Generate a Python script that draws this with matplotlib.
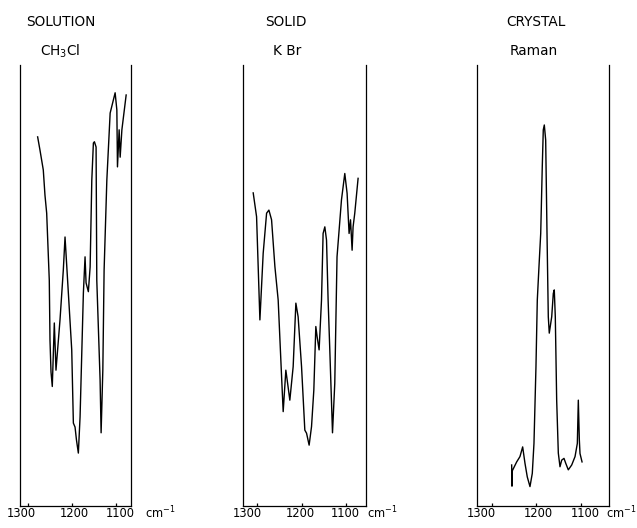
import matplotlib
matplotlib.use("Agg")
import matplotlib.pyplot as plt
import matplotlib.transforms as mtransforms

# ---------------- data ----------------
# Panel 1: SOLUTION, CH3Cl (IR)
sol_wn = [1278, 1272.7, 1265.2, 1261.4, 1257.5, 1253.4, 1251.6, 1250, 1247.7, 1244.8,
          1240.2, 1236.4, 1227.3, 1219.8,
          1215.9, 1200.7, 1197, 1193.2, 1190, 1185.7, 1181.8, 1174.3, 1170.5, 1168.2,
          1163, 1159, 1155.2, 1151.6, 1149.3, 1145.5, 1143.9, 1136.4, 1134.1, 1130.2,
          1127.3, 1121.1, 1113.6, 1102.3, 1098.4, 1097, 1093.2, 1090.9, 1087, 1077.3]
sol_val = [83.7, 80.7, 76.2, 70.5, 66.4, 55.8, 51.2, 37.6, 30.4, 27.1,
           41.5, 30.8, 42.2, 53.5,
           61.0, 35.4, 18.8, 17.9, 15.0, 12.0, 20.2, 48.3, 56.5, 50.6,
           48.6, 54.2, 73.9, 82.3, 82.6, 81.4, 51.2, 28.6, 16.6, 30.8,
           53.5, 73.9, 89.1, 93.7, 89.8, 76.9, 85.3, 79.1, 85.3, 93.2]

# Panel 2: SOLID, KBr (IR)
kbr_wn = [1309, 1301.4, 1293.9, 1286.5, 1278.8, 1273.6, 1267.6, 1260.1, 1252.7, 1245,
          1241.4, 1235.4, 1231.5, 1226.4, 1218.9, 1212.8, 1207.7, 1200, 1192.6, 1188.7,
          1182.9, 1177.5, 1172.3, 1167.8, 1164.9, 1160.4, 1155, 1151.4, 1147.5, 1143.7,
          1140.1, 1136.3, 1130.2, 1125.1, 1120, 1110, 1102.5, 1097.3, 1092.8, 1089.6,
          1086, 1083.8, 1080, 1072.5]
kbr_val = [71.0, 65.6, 42.2, 57.3, 66.4, 67.1, 64.9, 54.3, 46.7, 29.3,
           21.4, 30.8, 27.9, 24.0, 31.6, 46.0, 42.9, 31.6, 17.2, 16.5,
           13.8, 18.0, 26.3, 40.7, 38.4, 35.4, 46.7, 61.8, 63.3, 60.3,
           46.7, 35.4, 16.6, 27.8, 56.5, 69.4, 75.4, 70.9, 61.8, 64.9,
           58.0, 63.3, 66.4, 74.3]

# Panel 3: CRYSTAL, Raman
ram_wn = [1255.5, 1254.8, 1254.0, 1244.2, 1236.8, 1230.7, 1225.5, 1220.3, 1214.2, 1209,
          1205.2, 1200.7, 1197.7, 1193.9, 1190, 1186.5, 1184.2, 1181.9, 1178.8, 1175.8,
          1172.9, 1170.7, 1165.2, 1161.6, 1159.4, 1157.1, 1154, 1150.3, 1146.5, 1142.7,
          1137.5, 1133.6, 1127.8, 1120.1, 1112.6, 1107.4, 1105.2, 1102.9, 1101.4, 1096.8]
ram_val = [9.3, 4.5, 8.0, 10.0, 11.2, 13.4, 9.7, 6.6, 4.4, 7.4,
           14.2, 31.6, 46.7, 54.3, 61.8, 76.9, 85.3, 86.4, 83.0, 61.8,
           42.9, 39.2, 42.9, 48.2, 49.0, 42.9, 24.0, 12.0, 8.9, 10.4,
           10.8, 9.7, 8.2, 9.3, 11.2, 14.2, 24.0, 15.0, 11.9, 10.0]

titles = ["SOLUTION", "SOLID", "CRYSTAL"]
subtitles = [r"CH$_3$Cl", "K Br", "Raman"]
tick_values = [1300, 1200, 1100]
tick_labels = ["1300", "1200", "1100"]
unit_label = r"cm$^{-1}$"

# ---------------- layout ----------------
W, H = 637, 528
fig = plt.figure(figsize=(W / 100, H / 100), dpi=100)
plt.rcParams['mathtext.fontset'] = 'dejavusans'

# (left px, right px, xlim left, xlim right)
panels = [
    (20, 130.7, 1318, 1067),
    (243, 366.3, 1332, 1054),
    (477.3, 609, 1333, 1036),
]
label_pos = [
    [1316, 1195.5, 1091, 1000],
    [1323, 1203.8, 1102, 1016.7],
    [1325, 1194.8, 1090.3, 1009],
]
title_px = [61, 286, 536]
sub_px = [60, 287, 534]

series = [(sol_wn, sol_val), (kbr_wn, kbr_val), (ram_wn, ram_val)]
top_px, bot_px = 65, 506

for i, ((lp, rp, xl, xr), (wn, val)) in enumerate(zip(panels, series)):
    ax = fig.add_axes([lp / W, 1 - bot_px / H, (rp - lp) / W, (bot_px - top_px) / H])
    ax.plot(wn, val, color="black", lw=1.0, solid_joinstyle="round")
    ax.set_xlim(xl, xr)
    ax.set_ylim(0, 100)
    ax.spines["top"].set_visible(False)
    for s in ("left", "right", "bottom"):
        ax.spines[s].set_linewidth(0.9)
    ax.set_yticks([])
    ax.set_xticks(tick_values)
    ax.set_xticklabels([])
    ax.tick_params(axis="x", direction="in", length=2.5, width=0.9)
    trans = mtransforms.blended_transform_factory(ax.transData, ax.transAxes)
    for pos, lab in zip(label_pos[i][:3], tick_labels):
        ax.text(pos, -0.017, lab, transform=trans, ha="center", va="center",
                fontsize=8.3, clip_on=False)
    ax.text(label_pos[i][3], -0.017, unit_label, transform=trans, ha="center",
            va="center", fontsize=8.3, clip_on=False)
    fig.text(title_px[i] / W, 1 - 22 / H, titles[i], ha="center", va="center",
             fontsize=9.8)
    fig.text(sub_px[i] / W, 1 - 51 / H, subtitles[i], ha="center", va="center",
             fontsize=9.8)

fig.savefig("out.png", dpi=100, facecolor="white")
